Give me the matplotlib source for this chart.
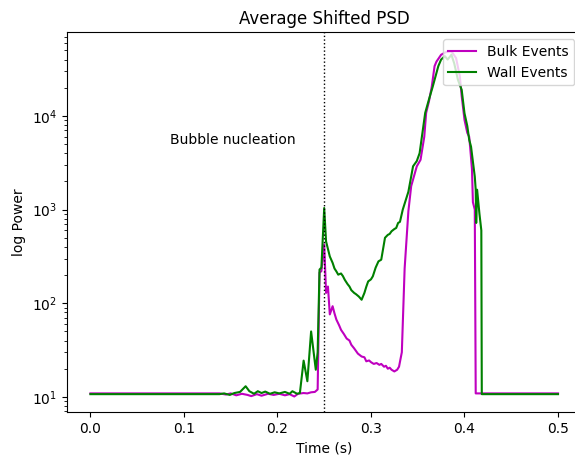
import matplotlib
matplotlib.use("Agg")
import matplotlib.pyplot as plt

# Bulk events (magenta)
bulk_t = [0.0, 0.138, 0.145, 0.150, 0.156, 0.162, 0.168, 0.172, 0.178, 0.183, 0.190,
          0.196, 0.202, 0.208, 0.213, 0.218, 0.222, 0.228, 0.232, 0.236, 0.240, 0.243,
          0.245, 0.247, 0.250, 0.252, 0.254, 0.256, 0.259, 0.261, 0.263, 0.266, 0.268,
          0.271, 0.274, 0.277, 0.279, 0.282, 0.286, 0.290, 0.293, 0.295, 0.298, 0.300,
          0.303, 0.306, 0.309, 0.311, 0.314, 0.316, 0.318, 0.320, 0.322, 0.325, 0.328,
          0.330, 0.333, 0.336, 0.340, 0.343, 0.349, 0.353, 0.357, 0.359, 0.362, 0.365,
          0.368, 0.370, 0.375, 0.380, 0.386, 0.391, 0.395, 0.397, 0.400, 0.403, 0.405,
          0.406, 0.408, 0.409, 0.411, 0.412, 0.5]
bulk_p = [10.9, 10.9, 10.6, 10.9, 10.4, 10.8, 10.5, 10.2, 10.7, 10.3, 10.8,
          10.5, 10.8, 10.4, 10.7, 10.1, 10.8, 11.0, 10.9, 11.2, 11.3, 12.0,
          213, 220, 425, 129, 151, 76, 93, 78, 67, 58, 52,
          47, 42, 40, 36, 33, 29, 27, 26.5, 24, 24.5, 23.5,
          22.5, 23, 22, 22.5, 21, 21.5, 20, 20.5, 19.5, 18.7, 19.5,
          21, 30, 235, 960, 1780, 2900, 3400, 6000, 10800, 14300, 20500,
          34000, 38000, 45000, 48000, 49000, 41500, 26500, 16300, 9100, 6600, 6000,
          4700, 2700, 1200, 1000, 10.9, 10.9]

# Wall events (green)
wall_t = [0.0, 0.138, 0.143, 0.149, 0.154, 0.160, 0.166, 0.170, 0.175, 0.179, 0.183,
          0.187, 0.192, 0.197, 0.202, 0.208, 0.213, 0.216, 0.221, 0.224, 0.228, 0.232,
          0.236, 0.241, 0.243, 0.245, 0.247, 0.250, 0.252, 0.254, 0.256, 0.259, 0.261,
          0.263, 0.265, 0.268, 0.270, 0.272, 0.275, 0.277, 0.279, 0.282, 0.284, 0.287,
          0.290, 0.293, 0.295, 0.297, 0.300, 0.302, 0.305, 0.308, 0.311, 0.315, 0.318,
          0.320, 0.322, 0.325, 0.327, 0.329, 0.331, 0.334, 0.340, 0.345, 0.349, 0.352,
          0.358, 0.362, 0.366, 0.372, 0.375, 0.379, 0.382, 0.386, 0.389, 0.393, 0.397,
          0.400, 0.403, 0.405, 0.407, 0.411, 0.412, 0.4125, 0.4135, 0.416, 0.418,
          0.4185, 0.5]
wall_p = [10.7, 10.7, 10.9, 10.5, 11.0, 11.3, 13.0, 11.5, 10.8, 11.5, 11.0,
          11.4, 10.8, 11.2, 10.9, 11.3, 10.8, 11.5, 10.8, 11.0, 24.4, 14.7,
          50, 19.5, 30, 229, 240, 1040, 457, 380, 316, 270, 235,
          219, 202, 208, 195, 178, 160, 151, 138, 129, 125, 118,
          109, 129, 150, 171, 180, 194, 240, 280, 292, 500, 537,
          550, 587, 620, 637, 720, 740, 1000, 1550, 2900, 3300, 4000,
          10800, 15000, 20500, 34000, 40000, 43500, 40000, 45000, 36500, 24300, 19000,
          10700, 7800, 5600, 4700, 2250, 1630, 720, 1630, 900, 600,
          10.7, 10.7]

fig = plt.figure(figsize=(5.75, 4.62), dpi=100)
ax = fig.add_axes([67/575, 50/462, (581.4-67)/575, (412.3-32.7)/462])
ax.plot(bulk_t, bulk_p, color='m', label='Bulk Events')
ax.plot(wall_t, wall_p, color='g', label='Wall Events')
ax.axvline(0.25, color='k', linestyle=':', linewidth=1)
ax.set_yscale('log')
ax.set_xlim(-0.025, 0.525)
ax.set_ylim(6.9, 7.8e4)
ax.text(0.085, 5000, 'Bubble nucleation', fontsize=10)
ax.set_title('Average Shifted PSD')
ax.set_xlabel('Time (s)')
ax.set_ylabel('log Power')
ax.legend(loc='upper right')
fig.savefig('out.png', dpi=100)
